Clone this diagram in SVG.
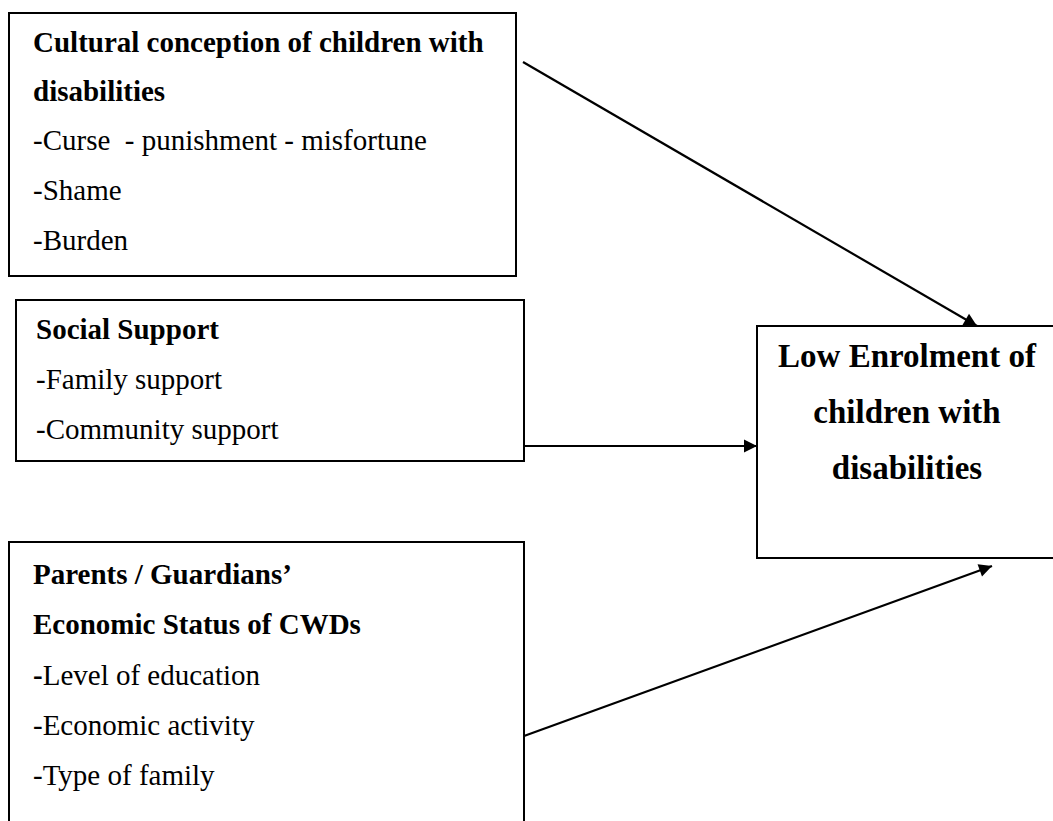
<svg xmlns="http://www.w3.org/2000/svg" width="1053" height="821" viewBox="0 0 1053 821">
<defs>
<style>
.box{fill:#fff;stroke:#000;stroke-width:2}
.t{font-family:"Liberation Serif","Times New Roman",serif;font-size:29px;fill:#000;white-space:pre}
.b{font-weight:bold}
.big{font-family:"Liberation Serif","Times New Roman",serif;font-size:33px;font-weight:bold;fill:#000;text-anchor:middle}
.c{stroke:#000;stroke-width:2.2;fill:none;marker-end:url(#ah)}
</style>
<marker id="ah" viewBox="0 0 10 10" refX="10" refY="5" markerWidth="16" markerHeight="13" markerUnits="userSpaceOnUse" orient="auto" style="overflow:visible">
<path d="M0,0 L10,5 L0,10 z" fill="#000"/>
</marker>
</defs>
<rect width="1053" height="821" fill="#fff"/>
<g id="cultural">
<rect class="box" x="9" y="13" width="507" height="263"/>
<text class="t b" x="33" y="52">Cultural conception of children with</text>
<text class="t b" x="33" y="101">disabilities</text>
<text class="t" x="33" y="150" xml:space="preserve">-Curse  - punishment - misfortune</text>
<text class="t" x="33" y="200">-Shame</text>
<text class="t" x="33" y="250">-Burden</text>
</g>
<g id="social">
<rect class="box" x="16" y="300" width="508" height="161"/>
<text class="t b" x="36" y="339">Social Support</text>
<text class="t" x="36" y="389">-Family support</text>
<text class="t" x="36" y="439">-Community support</text>
</g>
<g id="parents">
<rect class="box" x="9" y="542" width="515" height="290"/>
<text class="t b" x="33" y="584">Parents / Guardians’</text>
<text class="t b" x="33" y="634">Economic Status of CWDs</text>
<text class="t" x="33" y="685"><tspan class="b">-</tspan>Level of education</text>
<text class="t" x="33" y="735">-Economic activity</text>
<text class="t" x="33" y="785">-Type of family</text>
</g>
<g id="enrolment">
<rect class="box" x="757" y="326" width="310" height="232"/>
<text class="big" x="907" y="367">Low Enrolment of</text>
<text class="big" x="907" y="423">children with</text>
<text class="big" x="907" y="479">disabilities</text>
</g>
<g id="connectors">
<line class="c" x1="523" y1="62" x2="977" y2="326"/>
<line class="c" x1="524" y1="446" x2="757" y2="446"/>
<line class="c" x1="524" y1="736" x2="992" y2="566"/>
</g>
</svg>
